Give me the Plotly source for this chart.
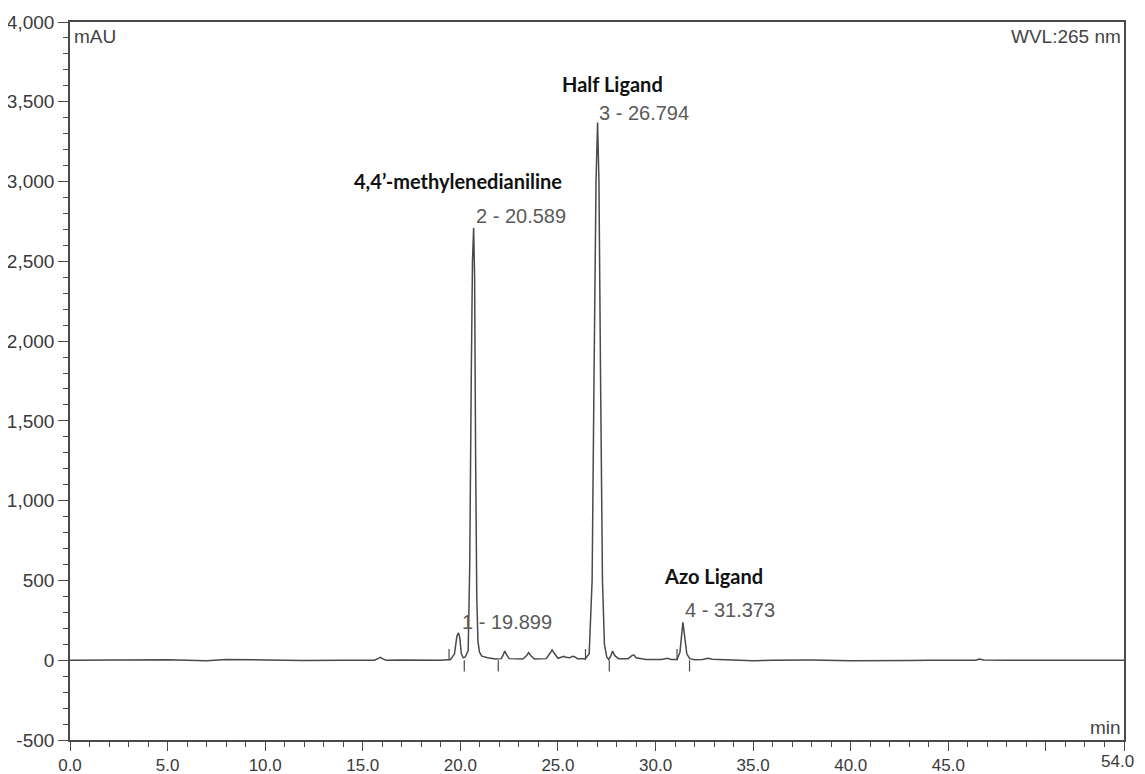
import plotly.graph_objects as go

# Chromatogram trace (time in min, signal in mAU)
time_min = [0.0, 2.0, 4.0, 5.0, 7.0, 8.0, 10.0, 12.0, 14.0, 15.6, 15.8, 15.9, 16.0, 16.2, 17.0,
            19.0, 19.5, 19.7, 19.82, 19.9, 19.97, 20.05, 20.15, 20.25, 20.4, 20.48, 20.56, 20.62,
            20.68, 20.73, 20.78, 20.84, 20.9, 20.98, 21.1, 21.4, 21.8, 22.1, 22.2, 22.28, 22.36,
            22.5, 23.2, 23.4, 23.5, 23.6, 23.8, 24.4, 24.6, 24.7, 24.8, 25.0, 25.2, 25.3, 25.4,
            25.6, 25.75, 25.85, 26.0, 26.4, 26.6, 26.75, 26.85, 26.95, 27.03, 27.1, 27.18, 27.28,
            27.38, 27.5, 27.6, 27.7, 27.8, 27.9, 28.1, 28.6, 28.8, 28.9, 29.0, 29.5, 30.3, 30.6,
            30.8, 31.1, 31.25, 31.33, 31.4, 31.48, 31.6, 31.75, 32.0, 32.4, 32.7, 32.9, 33.5, 35.0,
            36.0, 38.0, 40.0, 41.0, 43.0, 44.0, 46.4, 46.6, 46.8, 48.0, 50.0, 54.0]
signal_mau = [0, 2, 5, 3, -3, 4, 2, -2, 0, 0, 12, 18, 10, 0, 2,
              0, 5, 40, 150, 172, 140, 40, 15, 20, 60, 600, 1800, 2500,
              2710, 2400, 1300, 400, 120, 50, 25, 15, 8, 10, 35, 58, 35,
              10, 8, 30, 48, 30, 8, 10, 45, 65, 45, 12, 20, 25, 18,
              15, 25, 22, 10, 10, 40, 500, 1800, 3000, 3370, 3000, 1800, 500,
              100, 20, 5, 25, 57, 30, 10, 10, 30, 32, 15, 5, 5, 12,
              5, 5, 50, 180, 237, 160, 40, 10, 3, 5, 12, 6, 3, -3,
              0, 1, -3, -4, -2, 0, 0, 8, 2, 0, 0, 0]

# Integration baseline marks
mark_up_times = [19.42, 26.41, 31.1]
mark_down_times = [20.2, 21.94, 27.63, 31.74]
mark_up_height = 70
mark_down_depth = -70

# Axis labels (the last label, at the right edge, is placed separately so it is not clipped)
x_tick_vals = [0, 5, 10, 15, 20, 25, 30, 35, 40, 45, 50, 54]
x_tick_text = ["0.0", "5.0", "10.0", "15.0", "20.0", "25.0", "30.0", "35.0", "40.0", "45.0", "", ""]
x_end_label = "54.0"
x_end_value = 54
y_tick_vals = [-500, 0, 500, 1000, 1500, 2000, 2500, 3000, 3500, 4000]
y_tick_text = ["-500", "0", "500", "1,000", "1,500", "2,000", "2,500", "3,000", "3,500", "4,000"]

# Peak labels
peak_labels = ["1 - 19.899", "2 - 20.589", "3 - 26.794", "4 - 31.373"]
peak_label_x = [20.0, 20.7, 27.0, 31.4]
peak_label_y = [237, 2782, 3430, 312]

compound_names = ["4,4\u2019-methylenedianiline", "Half Ligand", "Azo Ligand"]
compound_x = [19.88, 27.8, 32.97]
compound_y = [3002, 3613, 526]

line_col = "#4a4a4a"
tick_font = dict(family="Liberation Sans, Arial", size=17, color="#3a3a3a")

fig = go.Figure()
fig.add_trace(go.Scatter(x=time_min, y=signal_mau, mode="lines",
                         line=dict(color=line_col, width=1.5), showlegend=False,
                         hoverinfo="skip"))

mx, my = [], []
for t in mark_up_times:
    mx += [t, t, None]
    my += [0, mark_up_height, None]
for t in mark_down_times:
    mx += [t, t, None]
    my += [0, mark_down_depth, None]
fig.add_trace(go.Scatter(x=mx, y=my, mode="lines", line=dict(color=line_col, width=1.2),
                         showlegend=False, hoverinfo="skip"))

for txt, x, y in zip(peak_labels, peak_label_x, peak_label_y):
    fig.add_annotation(x=x, y=y, text=txt, showarrow=False, xanchor="left", yanchor="middle",
                       font=dict(family="Liberation Sans, Arial", size=20, color="#5a5a5a"))

for txt, x, y in zip(compound_names, compound_x, compound_y):
    fig.add_annotation(x=x, y=y, text="<b>" + txt + "</b>", showarrow=False,
                       xanchor="center", yanchor="middle",
                       font=dict(family="Lato, Noto Sans", size=20, color="#111111"))

fig.add_annotation(xref="paper", yref="paper", x=0, y=1, text="mAU", showarrow=False,
                   xanchor="left", yanchor="top", xshift=2, yshift=-2,
                   font=dict(family="Liberation Sans, Arial", size=19, color="#444444"))
fig.add_annotation(xref="paper", yref="paper", x=1, y=1, text="WVL:265 nm", showarrow=False,
                   xanchor="right", yanchor="top", xshift=-1, yshift=-2,
                   font=dict(family="Liberation Sans, Arial", size=19, color="#444444"))
fig.add_annotation(xref="paper", yref="paper", x=1, y=0, text="min", showarrow=False,
                   xanchor="right", yanchor="bottom", xshift=-1, yshift=0,
                   font=dict(family="Liberation Sans, Arial", size=19, color="#444444"))
fig.add_annotation(xref="x", yref="paper", x=x_end_value, y=0, text=x_end_label, showarrow=False,
                   xanchor="right", yanchor="top", xshift=12, yshift=-10, font=tick_font)

fig.update_xaxes(range=[0, 54], tickmode="array", tickvals=x_tick_vals, ticktext=x_tick_text,
                 ticks="outside", ticklen=9, tickwidth=1.4, tickcolor=line_col,
                 showline=True, linecolor=line_col, linewidth=1.6, mirror=True,
                 showgrid=False, zeroline=False, automargin=False, tickfont=tick_font,
                 minor=dict(tickmode="linear", tick0=0, dtick=1, ticks="outside", ticklen=5,
                            tickwidth=1.2, tickcolor=line_col, showgrid=False))
fig.update_yaxes(range=[-500, 4000], tickmode="array", tickvals=y_tick_vals, ticktext=y_tick_text,
                 ticks="outside", ticklen=10, tickwidth=1.4, tickcolor=line_col,
                 showline=True, linecolor=line_col, linewidth=1.6, mirror=True,
                 showgrid=False, zeroline=False, automargin=False,
                 tickfont=dict(family="Liberation Sans, Arial", size=19, color="#3a3a3a"),
                 minor=dict(tickmode="linear", tick0=0, dtick=100, ticks="outside", ticklen=5,
                            tickwidth=1.2, tickcolor=line_col, showgrid=False))

# The page body adds an 8px margin, so the figure is sized to fill the rest of the window
fig.update_layout(width=1137, height=766, margin=dict(l=62, r=21, t=14, b=34),
                  paper_bgcolor="white", plot_bgcolor="white")

fig.write_html("out.html")
